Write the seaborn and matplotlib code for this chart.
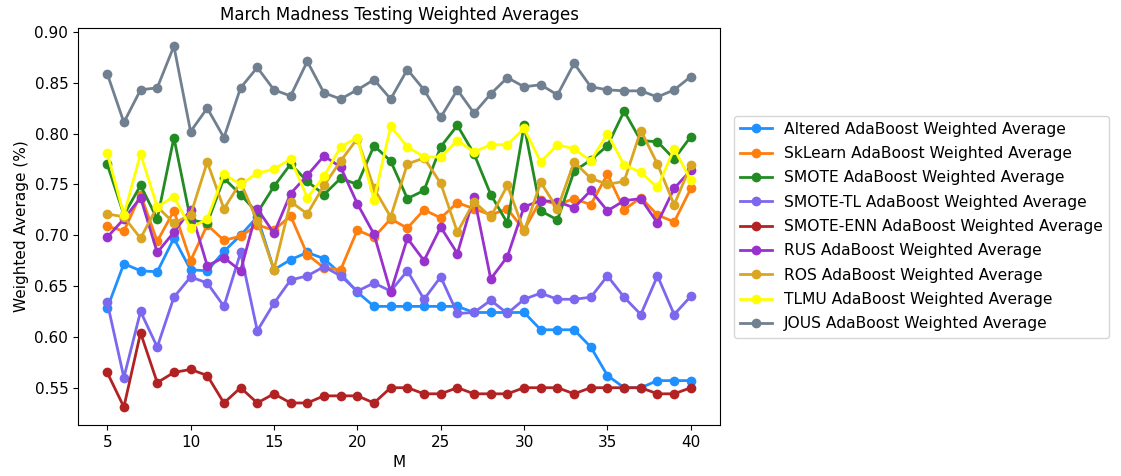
import numpy as np
import pandas as pd
import matplotlib
matplotlib.use("Agg")
import matplotlib.pyplot as plt
import seaborn as sns

# --- data (M = 5..40) ---
m_values = list(range(5, 41))

altered = [0.628, 0.672, 0.665, 0.664, 0.697, 0.666, 0.665, 0.684, 0.700, 0.718,
           0.666, 0.676, 0.683, 0.677, 0.662, 0.644, 0.630, 0.630, 0.630, 0.630,
           0.630, 0.630, 0.624, 0.624, 0.624, 0.624, 0.607, 0.607, 0.607, 0.590,
           0.562, 0.550, 0.550, 0.557, 0.557, 0.557]
sklearn = [0.709, 0.704, 0.740, 0.694, 0.724, 0.675, 0.710, 0.695, 0.699, 0.710,
           0.705, 0.719, 0.681, 0.668, 0.666, 0.705, 0.698, 0.716, 0.707, 0.725,
           0.717, 0.732, 0.726, 0.720, 0.726, 0.705, 0.735, 0.730, 0.736, 0.730,
           0.760, 0.725, 0.737, 0.720, 0.713, 0.746]
smote = [0.770, 0.720, 0.749, 0.716, 0.796, 0.715, 0.712, 0.756, 0.740, 0.722,
         0.748, 0.770, 0.753, 0.740, 0.756, 0.750, 0.788, 0.773, 0.736, 0.744,
         0.787, 0.808, 0.780, 0.740, 0.712, 0.808, 0.724, 0.715, 0.763, 0.774,
         0.788, 0.822, 0.793, 0.792, 0.775, 0.797]
smote_tl = [0.634, 0.560, 0.625, 0.590, 0.639, 0.659, 0.653, 0.630, 0.683, 0.606,
            0.633, 0.656, 0.660, 0.669, 0.660, 0.645, 0.653, 0.645, 0.665, 0.637,
            0.659, 0.623, 0.624, 0.636, 0.623, 0.637, 0.643, 0.637, 0.637, 0.639,
            0.660, 0.639, 0.622, 0.660, 0.622, 0.640]
smote_enn = [0.565, 0.531, 0.604, 0.555, 0.565, 0.568, 0.562, 0.535, 0.550, 0.535,
             0.544, 0.535, 0.535, 0.542, 0.542, 0.542, 0.535, 0.550, 0.550, 0.544,
             0.544, 0.550, 0.544, 0.544, 0.544, 0.550, 0.550, 0.550, 0.544, 0.550,
             0.550, 0.550, 0.550, 0.544, 0.544, 0.550]
rus = [0.698, 0.716, 0.737, 0.683, 0.703, 0.725, 0.670, 0.678, 0.665, 0.726,
       0.702, 0.741, 0.759, 0.778, 0.767, 0.731, 0.701, 0.644, 0.697, 0.675,
       0.708, 0.682, 0.738, 0.657, 0.679, 0.728, 0.734, 0.733, 0.727, 0.744,
       0.724, 0.734, 0.736, 0.712, 0.746, 0.764]
ros = [0.721, 0.718, 0.697, 0.728, 0.712, 0.720, 0.772, 0.726, 0.752, 0.714,
       0.666, 0.733, 0.721, 0.749, 0.773, 0.795, 0.746, 0.718, 0.770, 0.776,
       0.751, 0.703, 0.733, 0.718, 0.749, 0.704, 0.752, 0.726, 0.772, 0.756,
       0.750, 0.753, 0.803, 0.770, 0.730, 0.769]
tlmu = [0.781, 0.720, 0.780, 0.728, 0.738, 0.707, 0.716, 0.760, 0.750, 0.761,
        0.765, 0.775, 0.737, 0.758, 0.787, 0.796, 0.735, 0.807, 0.787, 0.777,
        0.777, 0.793, 0.782, 0.789, 0.789, 0.805, 0.772, 0.789, 0.785, 0.773,
        0.800, 0.769, 0.762, 0.747, 0.785, 0.754]
jous = [0.859, 0.811, 0.843, 0.845, 0.886, 0.802, 0.825, 0.796, 0.845, 0.865,
        0.843, 0.837, 0.871, 0.840, 0.834, 0.843, 0.853, 0.834, 0.863, 0.843,
        0.816, 0.843, 0.820, 0.839, 0.855, 0.846, 0.848, 0.838, 0.869, 0.846,
        0.843, 0.842, 0.842, 0.836, 0.843, 0.856]

series = [
    ("Altered AdaBoost Weighted Average", altered, "dodgerblue"),
    ("SkLearn AdaBoost Weighted Average", sklearn, "tab:orange"),
    ("SMOTE AdaBoost Weighted Average", smote, "forestgreen"),
    ("SMOTE-TL AdaBoost Weighted Average", smote_tl, "mediumslateblue"),
    ("SMOTE-ENN AdaBoost Weighted Average", smote_enn, "firebrick"),
    ("RUS AdaBoost Weighted Average", rus, "darkorchid"),
    ("ROS AdaBoost Weighted Average", ros, "goldenrod"),
    ("TLMU AdaBoost Weighted Average", tlmu, "yellow"),
    ("JOUS AdaBoost Weighted Average", jous, "slategray"),
]

plt.rcParams['font.family'] = ['DejaVu Sans']
plt.rcParams['font.size'] = 11

fig = plt.figure(figsize=(11.21, 4.76), dpi=100)
ax = fig.add_axes([0.0696, 0.107, 0.5727, 0.834])

for name, vals, color in series:
    sns.lineplot(x=m_values, y=vals, ax=ax, label=name, color=color,
                 marker="o", markersize=7, markeredgewidth=0, linewidth=2)

ax.set_title("March Madness Testing Weighted Averages", fontsize=12)
ax.set_xlabel("M")
ax.set_ylabel("Weighted Average (%)")
ax.legend(loc="center left", bbox_to_anchor=(1.01, 0.5), fontsize=11.2,
          labelspacing=0.6)

fig.savefig("out.png", dpi=100)
